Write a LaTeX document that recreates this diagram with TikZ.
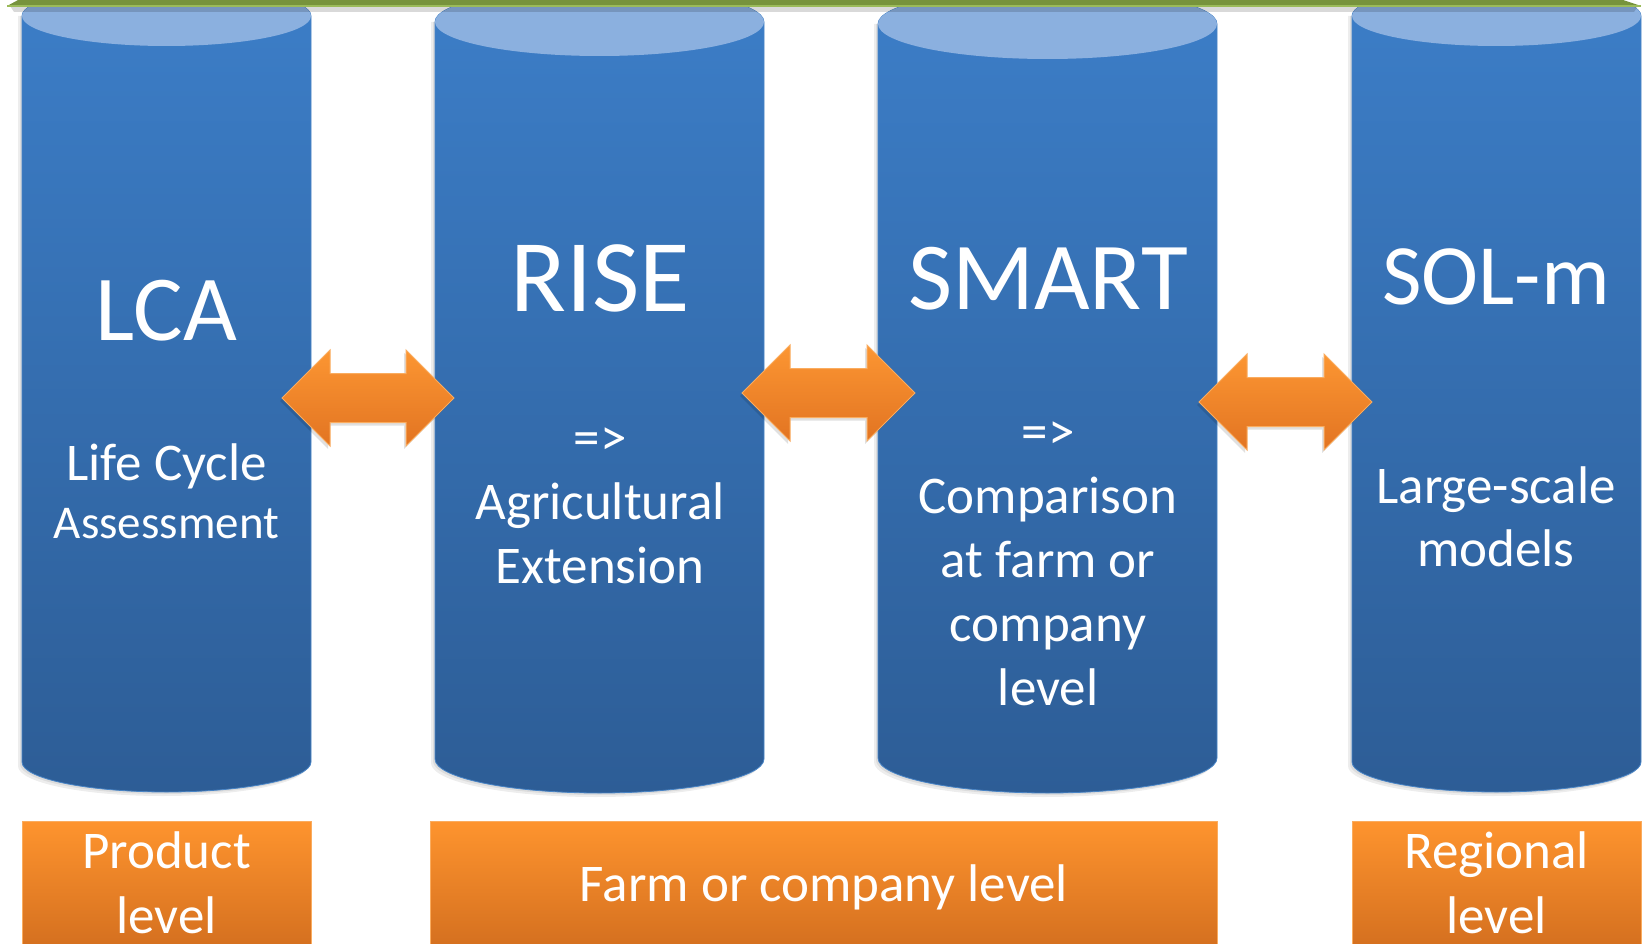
\documentclass[tikz,border=0pt]{standalone}
\usepackage{fontspec}
\setmainfont{Carlito}
\definecolor{cyltop}{RGB}{60,126,200}
\definecolor{cylbot}{RGB}{45,93,150}
\definecolor{cylcap}{RGB}{139,176,223}
\definecolor{cyledge}{RGB}{72,132,198}
\definecolor{ortop}{RGB}{254,148,46}
\definecolor{orbot}{RGB}{208,108,30}
\definecolor{oredge}{RGB}{250,172,95}
\definecolor{artop}{RGB}{252,150,50}
\definecolor{arbot}{RGB}{226,116,34}
\definecolor{grn}{RGB}{119,147,60}
\definecolor{grnl}{RGB}{155,187,89}
\tikzset{
  cylbody/.style={top color=cyltop,bottom color=cylbot,draw=cyledge,line width=0.8pt},
  cylend/.style={fill=cylcap},
  dblarrow/.style={top color=artop,bottom color=arbot,draw=oredge,line width=1pt},
  levelbox/.style={top color=ortop,bottom color=orbot,draw=oredge,line width=1pt},
  ttl/.style={text=white,inner sep=0pt,anchor=base,font=\fontsize{#1}{#1}\selectfont},
  body/.style={text=white,inner sep=0pt,anchor=base,align=center,font=\fontsize{53}{#1}\selectfont},
}
% #1 cx, #2 rx, #3 top cy, #4 bottom cy, #5 ry
\newcommand\mycyl[5]{%
  \fill[black,opacity=0.07] ({#1-#2-4},#3) -- ({#1-#2-4},{#4+4}) arc[start angle=180,end angle=0,x radius=#2,y radius=#5] -- ({#1+#2-4},#3) -- cycle;
  \fill[black,opacity=0.07] ({#1-#2-2},#3) -- ({#1-#2-2},{#4+2}) arc[start angle=180,end angle=0,x radius=#2,y radius=#5] -- ({#1+#2-2},#3) -- cycle;
  \shade[cylbody] ({#1-#2},#3) -- ({#1-#2},#4) arc[start angle=180,end angle=0,x radius=#2,y radius=#5] -- ({#1+#2},#3) arc[start angle=0,end angle=-180,x radius=#2,y radius=#5] -- cycle;
  \fill[cylend] (#1,#3) ellipse[x radius=#2,y radius=#5];
}
% #1 left tip x, #2 right tip x, #3 center y
\newcommand\mydblarrow[3]{%
  \fill[black,opacity=0.12] ({#1-2},{#3+3}) -- ({#1+46},{#3-45}) -- ({#1+46},{#3-21.5}) -- ({#2-50},{#3-21.5}) -- ({#2-50},{#3-45}) -- ({#2-2},{#3+3}) -- ({#2-50},{#3+51}) -- ({#2-50},{#3+27.5}) -- ({#1+46},{#3+27.5}) -- ({#1+46},{#3+51}) -- cycle;
  \shade[dblarrow] (#1,#3) -- ({#1+48},{#3-48}) -- ({#1+48},{#3-24.5}) -- ({#2-48},{#3-24.5}) -- ({#2-48},{#3-48}) -- (#2,#3) -- ({#2-48},{#3+48}) -- ({#2-48},{#3+24.5}) -- ({#1+48},{#3+24.5}) -- ({#1+48},{#3+48}) -- cycle;
}
\begin{document}
\begin{tikzpicture}[x=1pt,y=-1pt]
\useasboundingbox (0,0) rectangle (1647,944);
\clip (0,0) rectangle (1647,944);
\fill[white] (0,0) rectangle (1647,944);
% cylinders
\mycyl{166.5}{144.5}{16}{762}{30}
\mycyl{599.5}{164.5}{22}{759}{34}
\mycyl{1047.5}{169.5}{24}{758}{35}
\mycyl{1496.5}{144.5}{16}{762}{30}
% green bar
\fill[black,opacity=0.15] (10,6) -- (1638,6) -- (1634,12) -- (14,12) -- cycle;
\fill[grn] (20,-1) -- (1620,-1) -- (1641,6) -- (7,6) -- cycle;
\draw[grnl,line width=1.5pt] (7,6) -- (1641,6);
% arrows
\mydblarrow{282}{454}{398}
\mydblarrow{742}{915}{393}
\mydblarrow{1199}{1372}{402}
% level boxes
\shade[levelbox] (22,821) rectangle (311,960);
\shade[levelbox] (430,821) rectangle (1217,960);
\shade[levelbox] (1352,821) rectangle (1641,960);
% titles
\node[ttl=93] (lca) at (166.5,340) {LCA};
\node[ttl=103] (rise) at (600,311) {RISE};
\node[ttl=96] (smart) at (1048,309) {SMART};
\node[ttl=86] (solm) at (1496,305) {SOL-m};
% body texts (anchored at the baseline of the last line)
\node[body=58] (lcatxt) at (166.5,538) {Life Cycle\\[0pt]\fontsize{47}{58}\selectfont Assessment};
\node[body=64] (risetxt) at (600,583) {=>\\Agricultural\\Extension};
\node[body=64] (smarttxt) at (1048,705) {=>\\Comparison\\at farm or\\company\\level};
\node[body=63] (solmtxt) at (1496,566) {Large-scale\\models};
% level labels
\node[body=65] (prod) at (166.5,933) {Product\\level};
\node[body=65] (farm) at (824,901) {Farm or company level};
\node[body=65] (reg) at (1496.5,933) {Regional\\level};
\end{tikzpicture}
\end{document}
